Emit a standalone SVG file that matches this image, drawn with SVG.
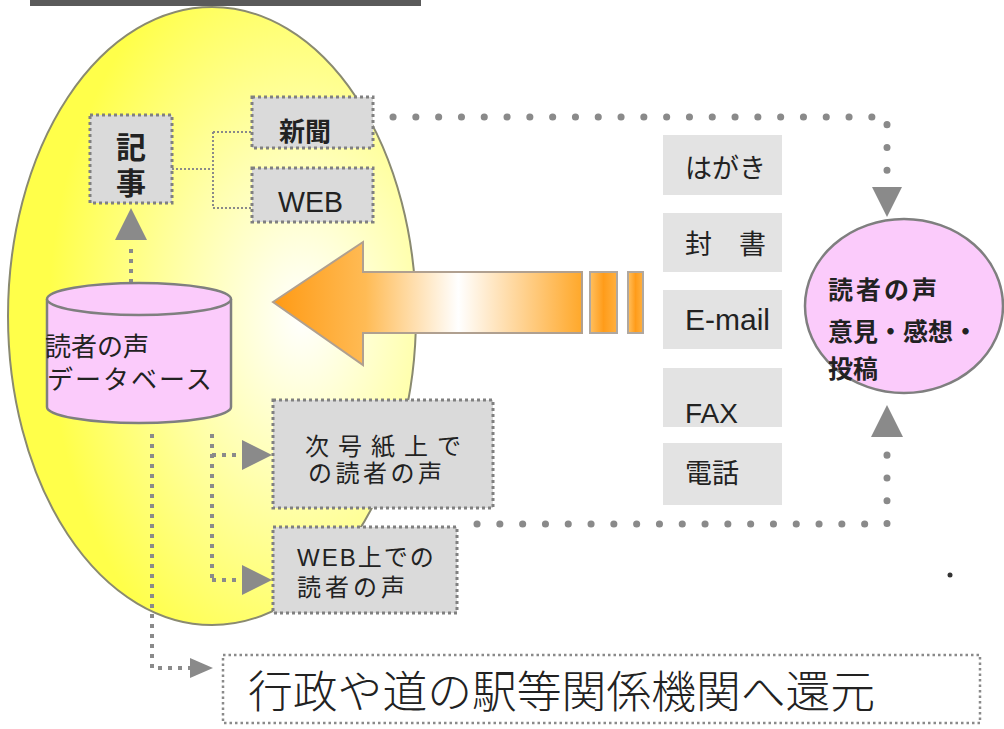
<svg xmlns="http://www.w3.org/2000/svg" width="1004" height="729" viewBox="0 0 1004 729">
<defs>
  <radialGradient id="eggGrad" cx="0.72" cy="0.5" r="0.62">
    <stop offset="0" stop-color="#ffffff"/>
    <stop offset="0.45" stop-color="#ffffb0"/>
    <stop offset="1" stop-color="#ffff4a"/>
  </radialGradient>
  <linearGradient id="arrowGrad" gradientUnits="userSpaceOnUse" x1="273" y1="0" x2="582" y2="0">
    <stop offset="0" stop-color="#ff9a14"/>
    <stop offset="0.3" stop-color="#ffbb55"/>
    <stop offset="0.6" stop-color="#ffffff"/>
    <stop offset="1" stop-color="#ffa82a"/>
  </linearGradient>
  <linearGradient id="barGrad" x1="0" y1="0" x2="1" y2="0">
    <stop offset="0" stop-color="#ffc060"/>
    <stop offset="0.5" stop-color="#ff9c1a"/>
    <stop offset="1" stop-color="#ffb040"/>
  </linearGradient>
</defs>
<style>
  text { font-family: "Liberation Sans", "Noto Sans CJK JP", sans-serif; fill: #222; }
  .dbox { fill: #dadada; stroke: #808080; stroke-width: 3; stroke-dasharray: 3 3; }
  .wbox { fill: #ffffff; stroke: #8a8a8a; stroke-width: 2.5; stroke-dasharray: 2.5 3; }
  .cbox { fill: #e3e3e3; stroke: none; }
  .big { fill: none; stroke: #8a8a8a; stroke-width: 7; stroke-linecap: round; stroke-dasharray: 0.1 22.7; }
  .small { fill: none; stroke: #8a8a8a; stroke-width: 4; stroke-dasharray: 4 6; }
  .thin { fill: none; stroke: #8a8a8a; stroke-width: 2; stroke-dasharray: 2 2; }
  .head { fill: #8a8a8a; }
  .pink { fill: #fbcbfb; stroke: #7f7f7f; stroke-width: 2.5; }
</style>
<rect x="0" y="0" width="1004" height="729" fill="#ffffff"/>

<!-- title bar -->
<rect x="30" y="0" width="391" height="6" fill="#5a5a5a"/>

<!-- yellow egg -->
<g id="egg">
  <ellipse cx="212" cy="316" rx="204" ry="309" fill="url(#eggGrad)" stroke="#8a8a70" stroke-width="2"/>
</g>

<!-- connectors -->
<g id="connectors">
  <!-- 記事 to 新聞 / WEB -->
  <path class="thin" d="M172,169 H213 M213,132 V208 M213,132 H252 M213,208 H252"/>
  <!-- DB to 記事 -->
  <path class="small" d="M131,283 V244"/>
  <polygon class="head" points="131,208 115,240 147,240"/>
  <!-- DB to 次号 / WEB上 -->
  <path class="small" d="M212,434 V582 M212,455 H242 M212,580 H242"/>
  <polygon class="head" points="272,455 242,440 242,470"/>
  <polygon class="head" points="272,580 242,565 242,595"/>
  <!-- DB to 行政 -->
  <path class="small" d="M152,434 V668 H190"/>
  <polygon class="head" points="213,668 190,658 190,678"/>
  <!-- loop: 新聞 to pink ellipse -->
  <path class="big" d="M393,117 H887 V172"/>
  <polygon class="head" points="872,187 902,187 887,217"/>
  <!-- loop: 次号 to pink ellipse -->
  <path class="big" d="M477,524 H887 V450"/>
  <polygon class="head" points="871,437 903,437 887,405"/>
</g>

<!-- big orange arrow -->
<g id="bigArrow">
  <polygon points="273,302 363,242 363,272 582,272 582,333 363,333 363,365" fill="url(#arrowGrad)" stroke="#b0a090" stroke-width="2"/>
  <rect x="590" y="272" width="27" height="61" fill="url(#barGrad)" stroke="#b0a8a0" stroke-width="2"/>
  <rect x="628" y="272" width="15" height="61" fill="url(#barGrad)" stroke="#b0a8a0" stroke-width="2"/>
</g>

<!-- 記事 -->
<g id="kiji">
  <rect class="dbox" x="90" y="115" width="82" height="88"/>
  <text x="131" y="158" font-size="30" text-anchor="middle" font-weight="bold">記</text>
  <text x="131" y="194" font-size="30" text-anchor="middle" font-weight="bold">事</text>
</g>

<!-- 新聞 -->
<g id="shinbun">
  <rect class="dbox" x="252" y="97" width="121" height="51"/>
  <text x="305" y="141" font-size="26" text-anchor="middle" font-weight="bold">新聞</text>
</g>

<!-- WEB -->
<g id="web">
  <rect class="dbox" x="252" y="168" width="121" height="54"/>
  <text x="278" y="212" font-size="30" textLength="65" lengthAdjust="spacingAndGlyphs" fill="#333">WEB</text>
</g>

<!-- database cylinder -->
<g id="db">
  <path class="pink" d="M47,299 V407 A92,16 0 0 0 231,407 V299"/>
  <ellipse class="pink" cx="139" cy="299" rx="92" ry="16"/>
  <text x="45" y="356" font-size="26">読者の声</text>
  <text x="47" y="389" font-size="26" letter-spacing="2">データベース</text>
</g>

<!-- 次号紙上での読者の声 -->
<g id="jigou">
  <rect class="dbox" x="273" y="400" width="220" height="108"/>
  <text x="305" y="455" font-size="24" letter-spacing="9">次号紙上で</text>
  <text x="308" y="482" font-size="24" letter-spacing="3.5">の読者の声</text>
</g>

<!-- WEB上での読者の声 -->
<g id="webue">
  <rect class="dbox" x="273" y="527" width="184" height="86"/>
  <text x="297" y="566" font-size="24" letter-spacing="2">WEB上での</text>
  <text x="297" y="596" font-size="24" letter-spacing="4">読者の声</text>
</g>

<!-- channels -->
<g id="hagaki">
  <rect class="cbox" x="663" y="135" width="119" height="60"/>
  <text x="685" y="178" font-size="27">はがき</text>
</g>
<g id="fusho">
  <rect class="cbox" x="663" y="213" width="119" height="59"/>
  <text x="685" y="254" font-size="27">封　書</text>
</g>
<g id="email">
  <rect class="cbox" x="663" y="290" width="119" height="59"/>
  <text x="685" y="330" font-size="30" fill="#2a2a50">E-mail</text>
</g>
<g id="fax">
  <rect class="cbox" x="663" y="368" width="119" height="59"/>
  <text x="685" y="423" font-size="28" fill="#2a2a50">FAX</text>
</g>
<g id="denwa">
  <rect class="cbox" x="663" y="443" width="119" height="62"/>
  <text x="685" y="483" font-size="27">電話</text>
</g>

<!-- pink ellipse: readers' voice -->
<g id="voice">
  <ellipse class="pink" cx="904" cy="306" rx="99" ry="87"/>
  <text x="828" y="299" font-size="25" font-weight="bold" letter-spacing="3">読者の声</text>
  <text x="828" y="341" font-size="25" font-weight="bold">意見・感想・</text>
  <text x="828" y="378" font-size="25" font-weight="bold">投稿</text>
</g>

<!-- 行政や道の駅等関係機関へ還元 -->
<g id="gyosei">
  <rect class="wbox" x="223" y="655" width="757" height="68"/>
  <text x="248" y="708" font-size="44.8" font-weight="300">行政や道の駅等関係機関へ還元</text>
</g>

<!-- stray dot -->
<circle cx="950" cy="575" r="2.5" fill="#333"/>
</svg>
